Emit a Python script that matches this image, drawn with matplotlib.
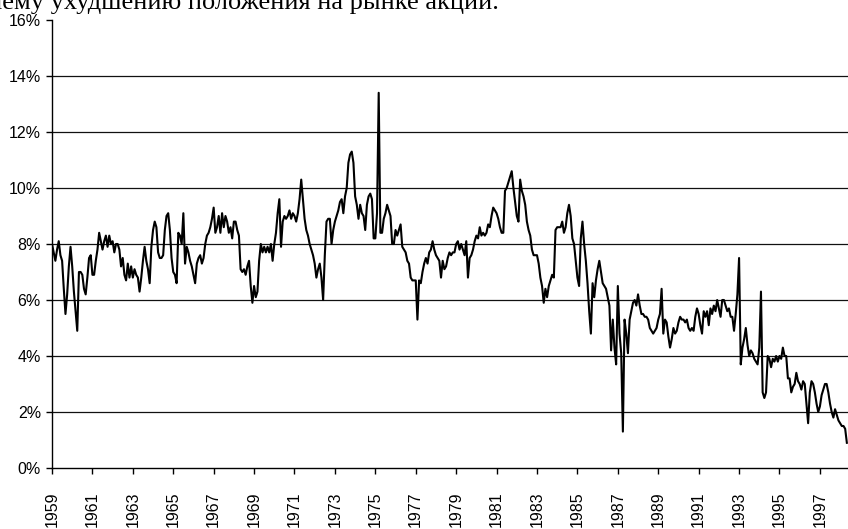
import numpy as np
import matplotlib
matplotlib.use("Agg")
import matplotlib.pyplot as plt

# monthly values, %
rate_1959_1967 = [
    8.0, 7.7, 7.4, 7.8, 8.1, 7.6, 7.4, 6.4, 5.5, 6.2,
    7.2, 7.9, 7.2, 6.3, 5.6, 4.9, 7.0, 7.0, 6.9, 6.4,
    6.2, 6.8, 7.5, 7.6, 6.9, 6.9, 7.4, 7.8, 8.4, 8.1,
    7.8, 8.1, 8.3, 7.9, 8.3, 8.0, 8.1, 7.7, 8.0, 8.0,
    7.8, 7.2, 7.5, 6.9, 6.7, 7.3, 6.8, 7.2, 6.8, 7.1,
    6.9, 6.8, 6.3, 6.8, 7.4, 7.9, 7.4, 7.1, 6.6, 7.9,
    8.5, 8.8, 8.6, 7.7, 7.5, 7.5, 7.6, 8.5, 9.0, 9.1,
    8.5, 7.5, 7.0, 6.9, 6.6, 8.4, 8.3, 8.0, 9.1, 7.3,
    7.9, 7.7, 7.4, 7.2, 6.9, 6.6, 7.3, 7.5, 7.6, 7.3,
    7.5, 8.0, 8.3, 8.4, 8.6, 8.9, 9.3, 8.4,
]
rate_1967_1974 = [
    8.6, 9.0, 8.4, 9.1, 8.6, 9.0, 8.8, 8.4, 8.6, 8.2,
    8.8, 8.8, 8.5, 8.3, 7.1, 7.0, 7.1, 6.9, 7.2, 7.4,
    6.5, 5.9, 6.5, 6.1, 6.3, 7.4, 8.0, 7.7, 7.9, 7.7,
    7.9, 7.7, 8.0, 7.4, 8.0, 8.4, 9.1, 9.6, 7.9, 8.8,
    9.0, 8.9, 9.0, 9.2, 8.9, 9.1, 9.0, 8.8, 9.1, 9.6,
    10.3, 9.6, 8.9, 8.5, 8.3, 8.0, 7.8, 7.6, 7.3, 6.8,
    7.1, 7.3, 6.8, 6.0, 7.6, 8.8, 8.9, 8.9, 8.0, 8.5,
    8.8, 9.0, 9.2, 9.5, 9.6, 9.1, 9.7, 10.0, 10.9, 11.2,
    11.3, 10.9, 9.7, 9.4, 8.9, 9.4, 9.1, 9.0, 8.5, 9.4,
    9.7, 9.8, 9.6, 8.2,
]
rate_1975_1982 = [
    8.2, 9.1, 13.4, 8.4, 8.4, 8.9, 9.1, 9.4, 9.2, 9.0,
    8.0, 8.0, 8.5, 8.3, 8.5, 8.7, 7.9, 7.8, 7.7, 7.4,
    7.3, 6.8, 6.7, 6.7, 6.7, 5.3, 6.7, 6.6, 7.0, 7.3,
    7.5, 7.3, 7.7, 7.8, 8.1, 7.8, 7.6, 7.5, 7.4, 6.8,
    7.4, 7.1, 7.2, 7.5, 7.7, 7.6, 7.7, 7.7, 8.0, 8.1,
    7.8, 8.0, 7.8, 7.6, 8.1, 6.8, 7.5, 7.6, 7.8, 8.1,
    8.3, 8.2, 8.6, 8.3, 8.4, 8.3, 8.4, 8.7, 8.6, 9.0,
    9.3, 9.2, 9.1, 8.9, 8.6, 8.4, 8.4, 9.9, 10.0, 10.2,
    10.4, 10.6, 10.0, 9.5, 9.0, 8.8, 10.3, 9.9, 9.7, 9.4,
    8.8, 8.5, 8.3, 7.8, 7.6,
]
rate_1982_1990 = [
    7.6, 7.6, 7.3, 6.8, 6.5, 5.9, 6.4, 6.1, 6.5, 6.7,
    6.9, 6.8, 8.5, 8.6, 8.6, 8.6, 8.8, 8.4, 8.6, 9.1,
    9.4, 9.0, 8.2, 8.0, 7.4, 6.8, 6.5, 8.2, 8.8, 8.0,
    7.4, 6.6, 5.6, 4.8, 6.6, 6.1, 6.7, 7.1, 7.4, 7.0,
    6.6, 6.5, 6.4, 6.1, 5.8, 4.2, 5.3, 4.3, 3.7, 6.5,
    4.8, 4.1, 1.3, 5.3, 4.8, 4.1, 5.3, 5.6, 5.9, 6.0,
    5.8, 6.2, 5.8, 5.5, 5.5, 5.4, 5.4, 5.3, 5.0, 4.9,
    4.8, 4.9, 5.0, 5.3, 5.5, 6.4, 4.8, 5.3, 5.2, 4.7,
    4.3, 4.6, 5.0, 4.8, 4.9, 5.2, 5.4, 5.3, 5.3, 5.2,
    5.3, 5.0, 4.9, 5.0, 4.9,
]
rate_1990_1998 = [
    5.4, 5.7, 5.5, 5.1, 4.8, 5.6, 5.4, 5.6, 5.1, 5.7,
    5.5, 5.8, 5.6, 6.0, 5.7, 5.4, 6.0, 6.0, 5.8, 5.6,
    5.7, 5.4, 5.4, 4.9, 5.5, 6.2, 7.5, 3.7, 4.3, 4.6,
    5.0, 4.4, 4.0, 4.2, 4.1, 3.9, 3.8, 3.7, 4.3, 6.3,
    2.7, 2.5, 2.7, 4.0, 3.9, 3.6, 3.9, 3.8, 4.0, 3.8,
    4.0, 3.9, 4.3, 4.0, 4.0, 3.2, 3.2, 2.7, 2.9, 3.0,
    3.4, 3.1, 3.0, 2.8, 3.1, 3.0, 2.3, 1.6, 2.7, 3.1,
    3.0, 2.7, 2.3, 2.0, 2.2, 2.6, 2.8, 3.0, 3.0, 2.7,
    2.3, 2.0, 1.8, 2.1, 1.9, 1.7, 1.6, 1.5, 1.5, 1.4,
    0.9,
]

start_year = 1959
year_ticks = list(range(1959, 1998, 2))
pct_ticks = [0, 2, 4, 6, 8, 10, 12, 14, 16]
caption = "шему ухудшению положения на рынке акций."

values = np.array(rate_1959_1967 + rate_1967_1974 + rate_1975_1982
                  + rate_1982_1990 + rate_1990_1998)
years = start_year + np.arange(len(values)) / 12.0

W, H = 848, 529
fig = plt.figure(figsize=(W / 100, H / 100), dpi=100)
ax = fig.add_axes([52 / W, 1 - 468 / H, 1 - 52 / W, 448 / H])

for v in pct_ticks[1:-1]:
    ax.axhline(v, color="#111111", lw=0.9, zorder=1)

ax.plot(years, values, color="black", lw=1.5, zorder=3)

ax.set_xlim(1959, 1998.39)
ax.set_ylim(0, 16)
ax.set_yticks(pct_ticks)
ax.set_yticklabels([f"{v}%" for v in pct_ticks])
ax.set_xticks(year_ticks)
ax.set_xticklabels([str(y) for y in year_ticks], rotation=90, va="top")

for s in ["top", "right"]:
    ax.spines[s].set_visible(False)
for s in ["left", "bottom"]:
    ax.spines[s].set_color("black")
    ax.spines[s].set_linewidth(1.0)

ax.tick_params(axis="y", direction="out", length=4, width=1, pad=4,
               labelsize=11.5, colors="black")
ax.tick_params(axis="x", direction="out", length=4, width=1, pad=13,
               labelsize=11.5, colors="black")
for lab in ax.get_xticklabels() + ax.get_yticklabels():
    lab.set_family("Liberation Sans")

# book text above the chart, cut off by the scan
fig.text(-18 / W, 1 - 9 / H, caption, fontsize=19,
         family="Liberation Serif", va="baseline", ha="left")

fig.savefig("out.png", dpi=100)
